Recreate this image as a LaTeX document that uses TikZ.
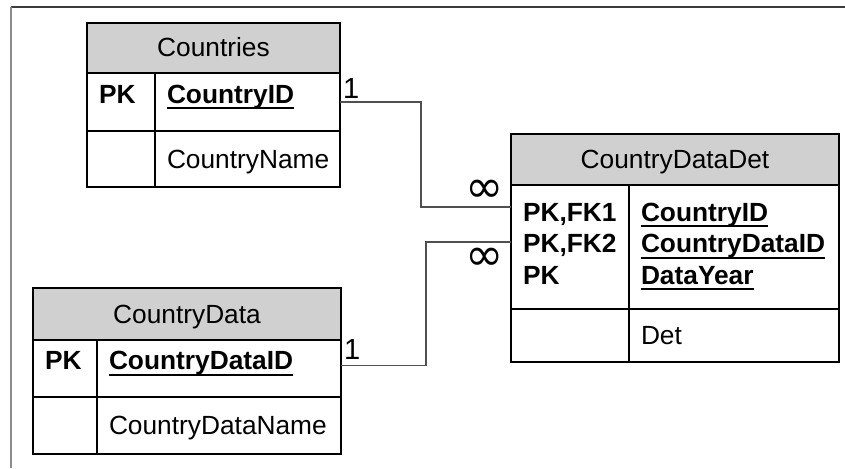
\documentclass[tikz,border=0pt]{standalone}
\usepackage{fontspec}
\setmainfont{Liberation Sans}
\newfontfamily\symfont{DejaVu Sans}
\usetikzlibrary{calc}

\definecolor{hdrgray}{RGB}{208,208,208}
\definecolor{relgray}{RGB}{80,80,80}
\definecolor{framedark}{RGB}{60,60,60}
\definecolor{framelight}{RGB}{140,140,140}
\newcommand{\keyfield}[1]{\textbf{\setbox0\hbox{#1}\rlap{\rule[-6pt]{\wd0}{2pt}}\box0}}
\newcommand{\many}{{\symfont\fontsize{46}{46}\selectfont ∞}}

\begin{document}
\begin{tikzpicture}[x=1pt,y=1pt,yscale=-1,xscale=1,
        font=\fontsize{26.3}{31.5}\selectfont,
        tblhead/.style={draw, line width=1.5pt, fill=hdrgray, inner sep=0pt, outer sep=0pt, text height=18pt, text depth=0pt, anchor=north west},
        tblcell/.style={draw, line width=1.5pt, inner xsep=12pt, inner ysep=2pt, outer sep=0pt, align=left, anchor=north west},
        keyrow/.style={tblcell, text height=18pt, text depth=16pt},
        plainrow/.style={tblcell, text height=18pt, text depth=0pt},
        relline/.style={draw=relgray, line width=1.2pt},
        card/.style={inner sep=0pt, font=\fontsize{29}{29}\selectfont}]
        \useasboundingbox (0,0) rectangle (845,468);
        \draw [line width=1.5pt, draw=framedark] (11,7) -- (845,7);
        \draw [line width=1.8pt, draw=framelight] (11,7) -- (11,468);

        % Countries
        \node [tblhead, minimum width=253pt, minimum height=50pt] (countries) at (87,23) {Countries};
        \node [keyrow, text width=44pt, minimum height=58pt] (countries-pk) at (countries.south west) {\textbf{PK}};
        \node [keyrow, text width=161pt, minimum height=58pt] (countries-id) at (countries-pk.north east) {\keyfield{CountryID}};
        \node [plainrow, text width=44pt, minimum height=56pt] (countries-nokey) at (countries-pk.south west) {};
        \node [plainrow, text width=161pt, minimum height=56pt] (countries-name) at (countries-pk.south east) {CountryName};

        % CountryDataDet
        \node [tblhead, minimum width=328pt, minimum height=51pt] (datadet) at (511,134) {CountryDataDet};
        \node [tblcell, text width=94pt, minimum height=124pt, text height=20pt, text depth=72pt] (datadet-keys) at (datadet.south west) {\textbf{PK,FK1}\\\textbf{PK,FK2}\\\textbf{PK}};
        \node [tblcell, text width=186pt, minimum height=124pt, text height=20pt, text depth=72pt] (datadet-ids) at (datadet-keys.north east) {\keyfield{CountryID}\\\keyfield{CountryDataID}\\\keyfield{DataYear}};
        \node [plainrow, text width=94pt, minimum height=53pt] (datadet-nokey) at (datadet-keys.south west) {};
        \node [plainrow, text width=186pt, minimum height=53pt] (datadet-det) at (datadet-keys.south east) {Det};

        % CountryData
        \node [tblhead, minimum width=308pt, minimum height=52pt] (cdata) at (33,288) {CountryData};
        \node [keyrow, text width=40pt, minimum height=57pt] (cdata-pk) at (cdata.south west) {\textbf{PK}};
        \node [keyrow, text width=220pt, minimum height=57pt] (cdata-id) at (cdata-pk.north east) {\keyfield{CountryDataID}};
        \node [plainrow, text width=40pt, minimum height=57pt] (cdata-nokey) at (cdata-pk.south west) {};
        \node [plainrow, text width=220pt, minimum height=57pt] (cdata-name) at (cdata-pk.south east) {CountryDataName};

        % relationships
        \coordinate (datadet-fk1) at ($(datadet-keys.north west)+(0,22)$);
        \coordinate (datadet-fk2) at ($(datadet-keys.north west)+(0,57)$);
        \coordinate (cdata-link) at ($(cdata-id.east)+(0,-3)$);
        \draw [relline] (countries-id.east) -- ++(81,0) |- (datadet-fk1);
        \draw [relline] (datadet-fk2) -- ++(-85,0) |- (cdata-link);

        \node [card, anchor=south west] (one-countries) at ($(countries-id.east)+(3,-3)$) {1};
        \node [card, anchor=south east] (many-countries) at ($(datadet-fk1)+(-7,-4)$) {\many};
        \node [card, anchor=north east] (many-cdata) at ($(datadet-fk2)+(-7,6)$) {\many};
        \node [card, anchor=south west] (one-cdata) at ($(cdata-link)+(3,-6)$) {1};
\end{tikzpicture}
\end{document}
